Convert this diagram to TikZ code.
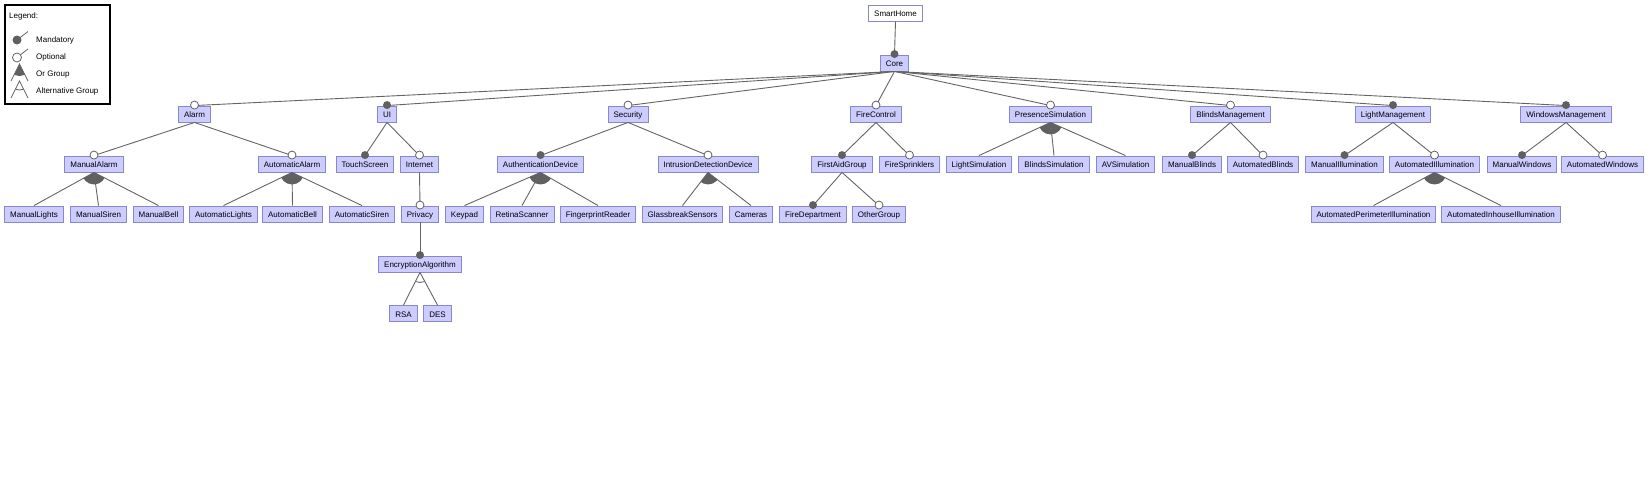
\documentclass[tikz,border=0pt]{standalone}
\usepackage{fontspec}
\setmainfont{Liberation Sans}
\definecolor{boxfill}{RGB}{204,204,255}
\definecolor{boxline}{RGB}{136,136,200}
\definecolor{edgecol}{RGB}{100,100,100}
\definecolor{dotcol}{RGB}{96,96,96}
\tikzset{
  feat/.style={draw=boxline, fill=boxfill, font=\fontsize{8}{9.6}\selectfont, inner xsep=5.5pt, inner ysep=0pt,
    minimum height=16pt, text height=7.6pt, text depth=0pt, line width=0.9pt, anchor=center},
  rootfeat/.style={feat, fill=white},
  edge/.style={draw=edgecol, line width=0.9pt},
  legtext/.style={font=\fontsize{8}{9.6}\selectfont, anchor=west, inner sep=0pt},
}
\newcommand\mndl[2]{\draw[edge] (#1.south) -- (#2.north); \fill[dotcol] ([yshift=0.5pt]#2.north) circle (4pt);}
\newcommand\optl[2]{\draw[edge] (#1.south) -- (#2.north); \filldraw[fill=white,draw=edgecol,line width=0.8pt] ([yshift=0.5pt]#2.north) circle (4pt);}
\newcommand\grl[2]{\draw[edge] (#1.south) -- (#2.north);}
\newcommand\orgrp[3]{\begin{scope}\clip (#1.south) -- (#2.north) -- (#3.north) -- cycle; \fill[dotcol] (#1.south) circle (12pt);\end{scope}}
\newcommand\altgrp[3]{\begin{scope}\clip (#1.south) -- (#2.north) -- (#3.north) -- cycle; \draw[edgecol,line width=0.8pt] (#1.south) circle (10pt);\end{scope}}
\begin{document}
\begin{tikzpicture}[x=1pt,y=-1pt]
\useasboundingbox (0,0) rectangle (1651,496);
% legend
\node (legend) [draw=black, line width=1.1pt, minimum width=105pt, minimum height=99pt, inner sep=0pt] at (57.5,54.5) {};
\node (legtitle) [legtext] at (9,16.5) {Legend:};
\node (lmand) [legtext] at (36,40.5) {Mandatory};
\node (lopt) [legtext] at (36,57.5) {Optional};
\node (lor) [legtext] at (36,74.5) {Or Group};
\node (lalt) [legtext] at (36,91.5) {Alternative Group};
\coordinate (lmc) at (17,40);
\coordinate (lme) at (28,31.5);
\draw[edgecol, line width=0.8pt] (lmc) -- (lme);
\fill[dotcol] (lmc) circle (4.5pt);
\coordinate (loc) at (17,57.5);
\coordinate (loe) at (28,49);
\draw[edgecol, line width=0.8pt] (loc) -- (loe);
\filldraw[fill=white, draw=edgecol, line width=0.8pt] (loc) circle (4.5pt);
\coordinate (lra) at (19.5,64);
\coordinate (lrl) at (11,81);
\coordinate (lrr) at (28,81);
\begin{scope}\clip (lra) -- (lrl) -- (lrr) -- cycle; \fill[dotcol] (lra) circle (12pt);\end{scope}
\draw[edgecol, line width=0.8pt] (lrl) -- (lra) -- (lrr);
\coordinate (laa) at (19.5,81);
\coordinate (lal) at (11,98);
\coordinate (lar) at (28,98);
\begin{scope}\clip (laa) -- (lal) -- (lar) -- cycle; \draw[edgecol, line width=0.8pt] (laa) circle (9pt);\end{scope}
\draw[edgecol, line width=0.8pt] (lal) -- (laa) -- (lar);
% row 0,1
\node (SmartHome) [rootfeat] at (895.5,13) {SmartHome};
\node (Core) [feat] at (894.5,63) {Core};
% row 2
\node (Alarm) [feat] at (194.5,114) {Alarm};
\node (UI) [feat] at (387,114) {UI};
\node (Security) [feat] at (628,114) {Security};
\node (FireControl) [feat] at (876,114) {FireControl};
\node (PresenceSimulation) [feat] at (1050.5,114) {PresenceSimulation};
\node (BlindsManagement) [feat] at (1230.5,114) {BlindsManagement};
\node (LightManagement) [feat] at (1393,114) {LightManagement};
\node (WindowsManagement) [feat] at (1566,114) {WindowsManagement};
% row 3
\node (ManualAlarm) [feat] at (94,164) {ManualAlarm};
\node (AutomaticAlarm) [feat] at (292,164) {AutomaticAlarm};
\node (TouchScreen) [feat] at (365,164) {TouchScreen};
\node (Internet) [feat] at (419.5,164) {Internet};
\node (AuthenticationDevice) [feat] at (540.5,164) {AuthenticationDevice};
\node (IntrusionDetectionDevice) [feat] at (708,164) {IntrusionDetectionDevice};
\node (FirstAidGroup) [feat] at (842,164) {FirstAidGroup};
\node (FireSprinklers) [feat] at (909.5,164) {FireSprinklers};
\node (LightSimulation) [feat] at (979,164) {LightSimulation};
\node (BlindsSimulation) [feat] at (1054,164) {BlindsSimulation};
\node (AVSimulation) [feat] at (1125.5,164) {AVSimulation};
\node (ManualBlinds) [feat] at (1192,164) {ManualBlinds};
\node (AutomatedBlinds) [feat] at (1263,164) {AutomatedBlinds};
\node (ManualIllumination) [feat] at (1344.5,164) {ManualIllumination};
\node (AutomatedIllumination) [feat] at (1434.5,164) {AutomatedIllumination};
\node (ManualWindows) [feat] at (1522,164) {ManualWindows};
\node (AutomatedWindows) [feat] at (1602.5,164) {AutomatedWindows};
% row 4
\node (ManualLights) [feat] at (34,214) {ManualLights};
\node (ManualSiren) [feat] at (98.5,214) {ManualSiren};
\node (ManualBell) [feat] at (158.5,214) {ManualBell};
\node (AutomaticLights) [feat] at (223.5,214) {AutomaticLights};
\node (AutomaticBell) [feat] at (292.5,214) {AutomaticBell};
\node (AutomaticSiren) [feat] at (362,214) {AutomaticSiren};
\node (Privacy) [feat] at (420,214) {Privacy};
\node (Keypad) [feat] at (464.5,214) {Keypad};
\node (RetinaScanner) [feat] at (522,214) {RetinaScanner};
\node (FingerprintReader) [feat] at (598,214) {FingerprintReader};
\node (GlassbreakSensors) [feat] at (682.5,214) {GlassbreakSensors};
\node (Cameras) [feat] at (751,214) {Cameras};
\node (FireDepartment) [feat] at (813,214) {FireDepartment};
\node (OtherGroup) [feat] at (879,214) {OtherGroup};
\node (AutomatedPerimeterIllumination) [feat] at (1373.5,214) {AutomatedPerimeterIllumination};
\node (AutomatedInhouseIllumination) [feat] at (1501,214) {AutomatedInhouseIllumination};
% row 5,6
\node (EncryptionAlgorithm) [feat] at (420,264) {EncryptionAlgorithm};
\node (RSA) [feat] at (403.5,313.5) {RSA};
\node (DES) [feat] at (437.5,313.5) {DES};
% connectors
\mndl{SmartHome}{Core}
\optl{Core}{Alarm}
\mndl{Core}{UI}
\optl{Core}{Security}
\optl{Core}{FireControl}
\optl{Core}{PresenceSimulation}
\optl{Core}{BlindsManagement}
\mndl{Core}{LightManagement}
\mndl{Core}{WindowsManagement}
\optl{Alarm}{ManualAlarm}
\optl{Alarm}{AutomaticAlarm}
\orgrp{ManualAlarm}{ManualLights}{ManualBell}
\grl{ManualAlarm}{ManualLights}
\grl{ManualAlarm}{ManualSiren}
\grl{ManualAlarm}{ManualBell}
\orgrp{AutomaticAlarm}{AutomaticLights}{AutomaticSiren}
\grl{AutomaticAlarm}{AutomaticLights}
\grl{AutomaticAlarm}{AutomaticBell}
\grl{AutomaticAlarm}{AutomaticSiren}
\mndl{UI}{TouchScreen}
\optl{UI}{Internet}
\optl{Internet}{Privacy}
\mndl{Privacy}{EncryptionAlgorithm}
\altgrp{EncryptionAlgorithm}{RSA}{DES}
\grl{EncryptionAlgorithm}{RSA}
\grl{EncryptionAlgorithm}{DES}
\mndl{Security}{AuthenticationDevice}
\optl{Security}{IntrusionDetectionDevice}
\orgrp{AuthenticationDevice}{Keypad}{FingerprintReader}
\grl{AuthenticationDevice}{Keypad}
\grl{AuthenticationDevice}{RetinaScanner}
\grl{AuthenticationDevice}{FingerprintReader}
\orgrp{IntrusionDetectionDevice}{GlassbreakSensors}{Cameras}
\grl{IntrusionDetectionDevice}{GlassbreakSensors}
\grl{IntrusionDetectionDevice}{Cameras}
\mndl{FireControl}{FirstAidGroup}
\optl{FireControl}{FireSprinklers}
\mndl{FirstAidGroup}{FireDepartment}
\optl{FirstAidGroup}{OtherGroup}
\orgrp{PresenceSimulation}{LightSimulation}{AVSimulation}
\grl{PresenceSimulation}{LightSimulation}
\grl{PresenceSimulation}{BlindsSimulation}
\grl{PresenceSimulation}{AVSimulation}
\mndl{BlindsManagement}{ManualBlinds}
\optl{BlindsManagement}{AutomatedBlinds}
\mndl{LightManagement}{ManualIllumination}
\optl{LightManagement}{AutomatedIllumination}
\orgrp{AutomatedIllumination}{AutomatedPerimeterIllumination}{AutomatedInhouseIllumination}
\grl{AutomatedIllumination}{AutomatedPerimeterIllumination}
\grl{AutomatedIllumination}{AutomatedInhouseIllumination}
\mndl{WindowsManagement}{ManualWindows}
\optl{WindowsManagement}{AutomatedWindows}
\end{tikzpicture}
\end{document}
